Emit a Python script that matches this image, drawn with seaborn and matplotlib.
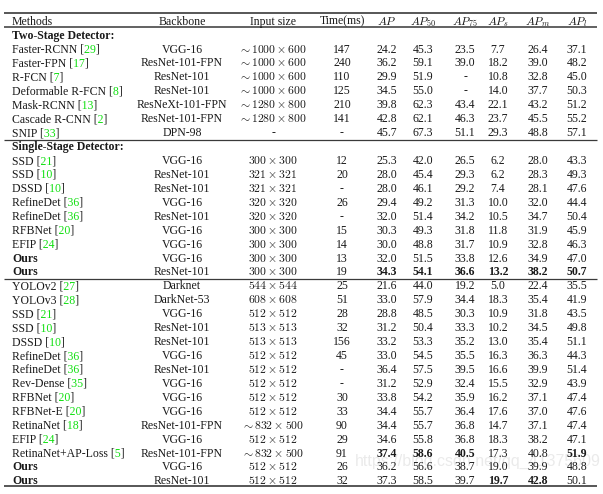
import seaborn as sns
import matplotlib.pyplot as plt
from matplotlib.transforms import Bbox

# ---- table data ----
HEADERS = ["Methods", "Backbone", "Input size", "Time(ms)",
           r"$AP$", r"$AP_{50}$", r"$AP_{75}$", r"$AP_s$", r"$AP_m$", r"$AP_l$"]

SECTION_LABELS = ["Two-Stage Detector:", "Single-Stage Detector:", None]
section = [0]*7 + [1]*9 + [2]*15

methods = ["Faster-RCNN", "Faster-FPN", "R-FCN", "Deformable R-FCN", "Mask-RCNN",
           "Cascade R-CNN", "SNIP",
           "SSD", "SSD", "DSSD", "RefineDet", "RefineDet", "RFBNet", "EFIP", "Ours", "Ours",
           "YOLOv2", "YOLOv3", "SSD", "SSD", "DSSD", "RefineDet", "RefineDet", "Rev-Dense",
           "RFBNet", "RFBNet-E", "RetinaNet", "EFIP", "RetinaNet+AP-Loss", "Ours", "Ours"]
refs = ["29", "17", "7", "8", "13", "2", "33",
        "21", "10", "10", "36", "36", "20", "24", None, None,
        "27", "28", "21", "10", "10", "36", "36", "35", "20", "20", "18", "24", "5", None, None]
backbones = ["VGG-16", "ResNet-101-FPN", "ResNet-101", "ResNet-101", "ResNeXt-101-FPN",
             "ResNet-101-FPN", "DPN-98",
             "VGG-16", "ResNet-101", "ResNet-101", "VGG-16", "ResNet-101", "VGG-16", "VGG-16",
             "VGG-16", "ResNet-101",
             "Darknet", "DarkNet-53", "VGG-16", "ResNet-101", "ResNet-101", "VGG-16",
             "ResNet-101", "VGG-16", "VGG-16", "VGG-16", "ResNet-101-FPN", "VGG-16",
             "ResNet-101-FPN", "VGG-16", "ResNet-101"]
input_sizes = [r"$\sim 1000\times 600$"]*4 + [r"$\sim 1280\times 800$"]*2 + ["-"] + \
    [r"$300\times 300$", r"$321\times 321$", r"$321\times 321$", r"$320\times 320$",
     r"$320\times 320$", r"$300\times 300$", r"$300\times 300$", r"$300\times 300$",
     r"$300\times 300$"] + \
    [r"$544\times 544$", r"$608\times 608$", r"$512\times 512$", r"$513\times 513$",
     r"$513\times 513$", r"$512\times 512$", r"$512\times 512$", r"$512\times 512$",
     r"$512\times 512$", r"$512\times 512$", r"$\sim 832\times 500$", r"$512\times 512$",
     r"$\sim 832\times 500$", r"$512\times 512$", r"$512\times 512$"]
times = ["147", "240", "110", "125", "210", "141", "-",
         "12", "20", "-", "26", "-", "15", "14", "13", "19",
         "25", "51", "28", "32", "156", "45", "-", "-", "30", "33", "90", "29", "91", "26", "32"]
ap = ["24.2", "36.2", "29.9", "34.5", "39.8", "42.8", "45.7",
      "25.3", "28.0", "28.0", "29.4", "32.0", "30.3", "30.0", "32.0", "34.3",
      "21.6", "33.0", "28.8", "31.2", "33.2", "33.0", "36.4", "31.2", "33.8", "34.4", "34.4",
      "34.6", "37.4", "36.2", "37.3"]
ap50 = ["45.3", "59.1", "51.9", "55.0", "62.3", "62.1", "67.3",
        "42.0", "45.4", "46.1", "49.2", "51.4", "49.3", "48.8", "51.5", "54.1",
        "44.0", "57.9", "48.5", "50.4", "53.3", "54.5", "57.5", "52.9", "54.2", "55.7", "55.7",
        "55.8", "58.6", "56.6", "58.5"]
ap75 = ["23.5", "39.0", "-", "-", "43.4", "46.3", "51.1",
        "26.5", "29.3", "29.2", "31.3", "34.2", "31.8", "31.7", "33.8", "36.6",
        "19.2", "34.4", "30.3", "33.3", "35.2", "35.5", "39.5", "32.4", "35.9", "36.4", "36.8",
        "36.8", "40.5", "38.7", "39.7"]
aps = ["7.7", "18.2", "10.8", "14.0", "22.1", "23.7", "29.3",
       "6.2", "6.2", "7.4", "10.0", "10.5", "11.8", "10.9", "12.6", "13.2",
       "5.0", "18.3", "10.9", "10.2", "13.0", "16.3", "16.6", "15.5", "16.2", "17.6", "14.7",
       "18.3", "17.3", "19.0", "19.7"]
apm = ["26.4", "39.0", "32.8", "37.7", "43.2", "45.5", "48.8",
       "28.0", "28.3", "28.1", "32.0", "34.7", "31.9", "32.8", "34.9", "38.2",
       "22.4", "35.4", "31.8", "34.5", "35.4", "36.3", "39.9", "32.9", "37.1", "37.0", "37.1",
       "38.2", "40.8", "39.9", "42.8"]
apl = ["37.1", "48.2", "45.0", "50.3", "51.2", "55.2", "57.1",
       "43.3", "49.3", "47.6", "44.4", "50.4", "45.9", "46.3", "47.0", "50.7",
       "35.5", "41.9", "43.5", "49.8", "51.1", "44.3", "51.4", "43.9", "47.4", "47.6", "47.4",
       "47.1", "51.9", "48.8", "50.1"]

# (row, column) cells printed in bold
bold_cells = [(15, c) for c in range(4, 10)] + \
             [(28, 4), (28, 5), (28, 6), (28, 9), (30, 7), (30, 8)]

# ---- layout ----
sns.set_theme(style="white")
plt.rcParams['font.family'] = ['Liberation Serif', 'DejaVu Serif']
FS = 8.45
GREEN = "#10e010"
W, H = 603, 494
col_x = [12, 182, 273, 342, 387, 423, 465, 498, 538, 577]
top, pitch = 20.7, 13.93

fig = plt.figure(figsize=(W / 100, H / 100), dpi=100)
ax = fig.add_axes([0, 0, 1, 1])
ax.set_xlim(0, W)
ax.set_ylim(H, 0)
ax.axis('off')
renderer = fig.canvas.get_renderer()


def row_y(i):
    return top + i * pitch + 4.0  # baseline


def put(x, i, s, ha='center', bold=False, color='k'):
    return ax.text(x, row_y(i), s, ha=ha, va='baseline', fontsize=FS, color=color,
                   fontweight='bold' if bold else 'normal', math_fontfamily='cm')


def ink_right(x, i, s):
    t = put(x, i, s, ha='left')
    x1 = t.get_window_extent(renderer).x1
    t.remove()
    return x1


def cited(x, i, name, ref):
    # "name [ref]" drawn in black and green, each clipped to its own span
    full = f"{name} [{ref}]"
    y = row_y(i)
    xa = ink_right(x, i, f"{name} [") + 0.4
    xb = ink_right(x, i, f"{name} [{ref}") + 0.4
    pieces = [(x - 5, xa, 'k'), (xa, xb, GREEN), (xb, x + 400, 'k')]
    for c0, c1, col in pieces:
        t = put(x, i, full, ha='left', color=col)
        t.set_clip_on(True)
        t.set_clip_box(Bbox.from_extents(c0, H - (y + 6), c1, H - (y - 14)))


for c, h in enumerate(HEADERS):
    put(col_x[c], 0, h, ha='left' if c == 0 else 'center')

disp = 1
prev_sec = None
rule_rows = []
for r in range(len(methods)):
    sec = section[r]
    if sec != prev_sec:
        if prev_sec is not None:
            rule_rows.append(disp)
        if SECTION_LABELS[sec]:
            put(col_x[0], disp, SECTION_LABELS[sec], ha='left', bold=True)
            disp += 1
        prev_sec = sec
    if refs[r] is None:
        put(col_x[0], disp, methods[r], ha='left', bold=methods[r] == "Ours")
    else:
        cited(col_x[0], disp, methods[r], refs[r])
    row_vals = [backbones[r], input_sizes[r], times[r],
                ap[r], ap50[r], ap75[r], aps[r], apm[r], apl[r]]
    for c, v in enumerate(row_vals, start=1):
        put(col_x[c], disp, v, bold=(r, c) in bold_cells)
    disp += 1

line_col = "#3a3a3a"
ax.hlines(13, 4, 597, color=line_col, lw=1.2)
ax.hlines(27.4, 4, 597, color="#555555", lw=1.3)
for d in rule_rows:
    ax.hlines(top + (d - 0.5) * pitch + 0.8, 4, 597, color=line_col, lw=0.9)
ax.hlines(486, 4, 597, color=line_col, lw=1.2)

# faint watermark of the source page
ax.text(478, 461, "https://blog.csdn.net/qq_41375609", ha='center', va='center',
        fontsize=11.5, family='Liberation Sans', color='#e2e2e2', alpha=0.7, zorder=0)

fig.savefig("out.png", dpi=100)
